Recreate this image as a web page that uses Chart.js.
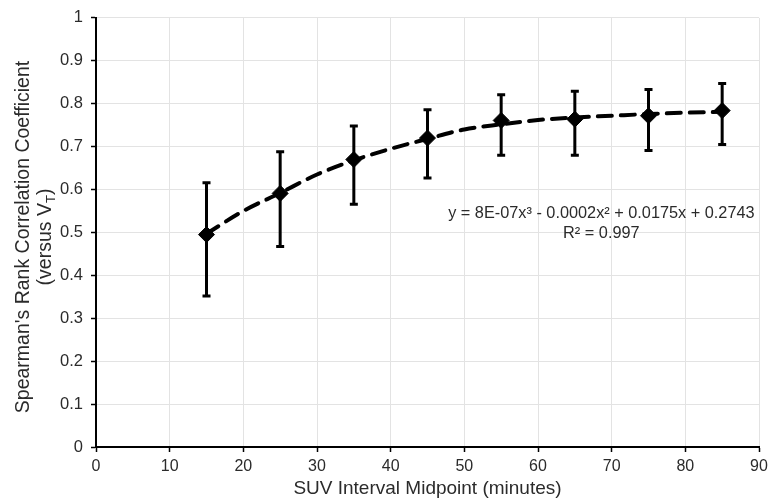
<!DOCTYPE html>
<html>
<head>
<meta charset="utf-8">
<script src="https://cdn.jsdelivr.net/npm/chart.js@4"></script>
<style>
	html, body { margin: 0; padding: 0; background: #fff; }
	#wrap { width: 768px; height: 498px; }
</style>
</head>
<body>
<div id="wrap"><canvas id="chart"></canvas></div>
<script>
// data
const midpoints = [15, 25, 35, 45, 55, 65, 75, 85];
const rho = [0.495, 0.591, 0.670, 0.720, 0.761, 0.764, 0.772, 0.784];
const errHigh = [0.616, 0.688, 0.748, 0.786, 0.821, 0.829, 0.833, 0.847];
const errLow = [0.352, 0.467, 0.566, 0.627, 0.680, 0.680, 0.691, 0.705];

// polynomial trend line
const trendX = [15, 20, 25, 30, 35, 40, 45, 50, 55, 60, 65, 70, 75, 80, 85];
const trendY = [0.497, 0.550, 0.592, 0.635, 0.668, 0.695, 0.718, 0.740, 0.752, 0.762, 0.768, 0.772, 0.776, 0.779, 0.781];

const xTicks = [0, 10, 20, 30, 40, 50, 60, 70, 80, 90];
const yTicks = [0, 0.1, 0.2, 0.3, 0.4, 0.5, 0.6, 0.7, 0.8, 0.9, 1];
const yTickLabels = ["0", "0.1", "0.2", "0.3", "0.4", "0.5", "0.6", "0.7", "0.8", "0.9", "1"];

const eqLine1 = "y = 8E-07x³ - 0.0002x² + 0.0175x + 0.2743";
const eqLine2 = "R² = 0.997";

const FONT = "'Liberation Sans', Arial, sans-serif";
const textColor = "#2b2b2b";

const errorBars = {
	id: "errorBars",
	afterDatasetsDraw(chart) {
		const ctx = chart.ctx;
		const xs = chart.scales.x;
		const ys = chart.scales.y;
		ctx.save();
		ctx.strokeStyle = "#000";
		ctx.lineWidth = 3;
		for (let i = 0; i < midpoints.length; i++) {
			const x = xs.getPixelForValue(midpoints[i]);
			const yt = ys.getPixelForValue(errHigh[i]);
			const yb = ys.getPixelForValue(errLow[i]);
			ctx.beginPath();
			ctx.moveTo(x, yt);
			ctx.lineTo(x, yb);
			ctx.moveTo(x - 4, yt);
			ctx.lineTo(x + 4, yt);
			ctx.moveTo(x - 4, yb);
			ctx.lineTo(x + 4, yb);
			ctx.stroke();
		}
		ctx.restore();
	},
};

const labels = {
	id: "labels",
	afterDraw(chart) {
		const ctx = chart.ctx;
		const xs = chart.scales.x;
		const ys = chart.scales.y;
		ctx.save();
		ctx.fillStyle = textColor;
		ctx.textAlign = "center";
		ctx.textBaseline = "middle";

		// trend line equation
		ctx.font = "16.3px " + FONT;
		const ex = xs.getPixelForValue(68.6);
		ctx.fillText(eqLine1, ex, ys.getPixelForValue(0.543));
		ctx.fillText(eqLine2, ex, ys.getPixelForValue(0.498));

		// y axis title, two lines, with subscript T
		const cy = 237;
		ctx.save();
		ctx.translate(24, cy);
		ctx.rotate(-Math.PI / 2);
		ctx.font = "19.5px " + FONT;
		ctx.fillText("Spearman's Rank Correlation Coefficient", 0, 0);
		ctx.restore();

		ctx.save();
		ctx.translate(46, cy);
		ctx.rotate(-Math.PI / 2);
		const a = "(versus V";
		const b = ")";
		ctx.font = "13px " + FONT;
		const wSub = ctx.measureText("T").width;
		ctx.font = "19.5px " + FONT;
		const wA = ctx.measureText(a).width;
		const wB = ctx.measureText(b).width;
		const x0 = -(wA + wSub + wB) / 2;
		ctx.textAlign = "left";
		ctx.fillText(a, x0, 0);
		ctx.font = "13px " + FONT;
		ctx.fillText("T", x0 + wA, 5);
		ctx.font = "19.5px " + FONT;
		ctx.fillText(b, x0 + wA + wSub, 0);
		ctx.restore();

		ctx.restore();
	},
};

new Chart(document.getElementById("chart"), {
	type: "scatter",
	data: {
		datasets: [
			{
				label: "Trend",
				data: trendX.map((x, i) => ({ x: x, y: trendY[i] })),
				showLine: true,
				borderColor: "#000",
				borderWidth: 4,
				borderDash: [14, 9],
				borderCapStyle: "round",
				pointRadius: 0,
				tension: 0.4,
				cubicInterpolationMode: "monotone",
				fill: false,
			},
			{
				label: "rho",
				data: midpoints.map((x, i) => ({ x: x, y: rho[i] })),
				pointStyle: "rectRot",
				pointRadius: 8,
				backgroundColor: "#000",
				borderColor: "#000",
				borderWidth: 1,
			},
		],
	},
	options: {
		responsive: true,
		maintainAspectRatio: false,
		animation: false,
		layout: { padding: { top: 17, right: 7, left: 0, bottom: 0 } },
		plugins: {
			legend: { display: false },
			tooltip: { enabled: false },
		},
		scales: {
			x: {
				type: "linear",
				min: 0,
				max: 90,
				afterBuildTicks: (scale) => {
					scale.ticks = xTicks.map((v) => ({ value: v }));
				},
				afterFit: (scale) => {
					scale.height = 51;
					scale.paddingRight = 0;
				},
				grid: {
					color: "#e3e3e3",
					lineWidth: 1,
					tickColor: "#000",
					tickLength: 5,
					tickWidth: 1.5,
				},
				border: { color: "#000", width: 2 },
				ticks: {
					color: textColor,
					padding: 5,
					font: { family: FONT, size: 16 },
					maxRotation: 0,
				},
				title: {
					display: true,
					text: "SUV Interval Midpoint (minutes)",
					color: textColor,
					font: { family: FONT, size: 19, lineHeight: 1 },
					padding: { top: 0, bottom: 0 },
				},
			},
			y: {
				type: "linear",
				min: 0,
				max: 1,
				afterBuildTicks: (scale) => {
					scale.ticks = yTicks.map((v) => ({ value: v }));
				},
				afterFit: (scale) => {
					scale.width = 96;
				},
				grid: {
					color: "#e3e3e3",
					lineWidth: 1,
					tickColor: "#000",
					tickLength: 5,
					tickWidth: 1.5,
				},
				border: { color: "#000", width: 2 },
				ticks: {
					color: textColor,
					padding: 8,
					font: { family: FONT, size: 16.5 },
					callback: (value, index) => yTickLabels[index],
				},
			},
		},
	},
	plugins: [errorBars, labels],
});
</script>
</body>
</html>
